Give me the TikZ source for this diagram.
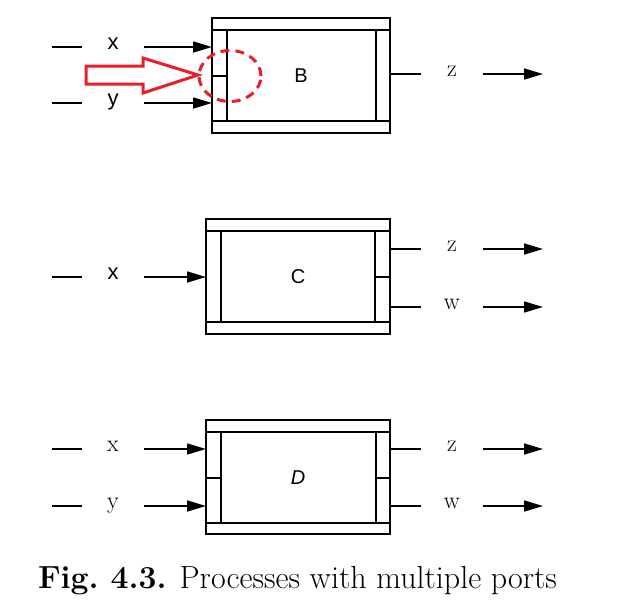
\documentclass[tikz,border=0pt]{standalone}
\usepackage{fontspec}
\newfontfamily\helv{Liberation Sans}
\usetikzlibrary{arrows.meta}
\definecolor{markred}{RGB}{232,30,40}

\begin{document}
\begin{tikzpicture}[x=1pt,y=-1pt,line width=1.6pt,
  arr/.style={-{Triangle[length=19pt,width=11pt]}},
  lbl/.style={inner sep=0pt,minimum width=60pt,text height=1ex,text depth=0pt,font=\fontsize{24}{28}\selectfont},
  slbl/.style={lbl,font=\fontsize{22}{26}\selectfont\helv},
  procbox/.style={draw,inner sep=0pt,font=\fontsize{20}{24}\selectfont\helv},
  redmark/.style={color=markred,line width=3pt}]
\useasboundingbox (0,0) rectangle (619,616);
% Drawing box B
\node[procbox,minimum width=178pt,minimum height=115pt] (B) at (301,75.5) {B};
\draw (212,30) -- (390,30);
\draw (212,121) -- (390,121);
\draw (227,30) -- (227,121);
\draw (376,30) -- (376,121);
\draw (212,76) -- (227,76);
% Line 1: x -> B
\coordinate (Bx0) at (52,47);
\node[slbl] (Bxl) at (113,47) {x};
\coordinate (Bx1) at (212,47);
\draw (Bx0) -- (Bxl);
\draw[arr] (Bxl) -- (Bx1);
% Line 2: y -> B
\coordinate (By0) at (52,103);
\node[slbl] (Byl) at (113,103) {y};
\coordinate (By1) at (212,103);
\draw (By0) -- (Byl);
\draw[arr] (Byl) -- (By1);
% Line 3: B -> z
\coordinate (Bz0) at (390,74);
\node[lbl] (Bzl) at (452,74) {z};
\coordinate (Bz1) at (543,74);
\draw (Bz0) -- (Bzl);
\draw[arr] (Bzl) -- (Bz1);
% Marking the input ports of B
\draw[redmark,line join=miter] (86,66) -- (143,66) -- (143,58) -- (198,75)
  -- (143,93) -- (143,84) -- (86,84) -- cycle;
\draw[redmark,dash pattern=on 9pt off 6pt] (230,76) ellipse (31pt and 25.5pt);
% Drawing box C
\node[procbox,minimum width=184pt,minimum height=115pt] (C) at (298,276.7) {C};
\draw (206,231) -- (390,231);
\draw (206,322) -- (390,322);
\draw (221,231) -- (221,322);
\draw (375,231) -- (375,322);
\draw (375,277) -- (390,277);
% Line 4: x -> C
\coordinate (Cx0) at (52,277);
\node[slbl] (Cxl) at (113,277) {x};
\coordinate (Cx1) at (206,277);
\draw (Cx0) -- (Cxl);
\draw[arr] (Cxl) -- (Cx1);
% Line 5: C -> z
\coordinate (Cz0) at (390,249);
\node[lbl] (Czl) at (452,249) {z};
\coordinate (Cz1) at (543,249);
\draw (Cz0) -- (Czl);
\draw[arr] (Czl) -- (Cz1);
% Line 6: C -> w
\coordinate (Cw0) at (390,307);
\node[lbl] (Cwl) at (452,307) {w};
\coordinate (Cw1) at (543,307);
\draw (Cw0) -- (Cwl);
\draw[arr] (Cwl) -- (Cw1);
% Drawing box D
\node[procbox,minimum width=184pt,minimum height=114pt,font=\fontsize{20}{24}\selectfont\helv\itshape] (D) at (298,477.2) {D};
\draw (206,432) -- (390,432);
\draw (206,523) -- (390,523);
\draw (221,432) -- (221,523);
\draw (376,432) -- (376,523);
\draw (206,478) -- (221,478);
\draw (376,478) -- (390,478);
% Line 7: x -> D
\coordinate (Dx0) at (52,449);
\node[lbl] (Dxl) at (113,449) {x};
\coordinate (Dx1) at (206,449);
\draw (Dx0) -- (Dxl);
\draw[arr] (Dxl) -- (Dx1);
% Line 8: y -> D
\coordinate (Dy0) at (52,506);
\node[lbl] (Dyl) at (113,506) {y};
\coordinate (Dy1) at (206,506);
\draw (Dy0) -- (Dyl);
\draw[arr] (Dyl) -- (Dy1);
% Line 9: D -> z
\coordinate (Dz0) at (390,449);
\node[lbl] (Dzl) at (452,449) {z};
\coordinate (Dz1) at (543,449);
\draw (Dz0) -- (Dzl);
\draw[arr] (Dzl) -- (Dz1);
% Line 10: D -> w
\coordinate (Dw0) at (390,506);
\node[lbl] (Dwl) at (452,506) {w};
\coordinate (Dw1) at (543,506);
\draw (Dw0) -- (Dwl);
\draw[arr] (Dwl) -- (Dw1);
% Caption
\node[anchor=base,inner sep=0pt,font=\fontsize{32}{36}\selectfont] (cap) at (297.5,588)
  {\textbf{Fig.\ 4.3.} Processes with multiple ports};
\end{tikzpicture}
\end{document}
